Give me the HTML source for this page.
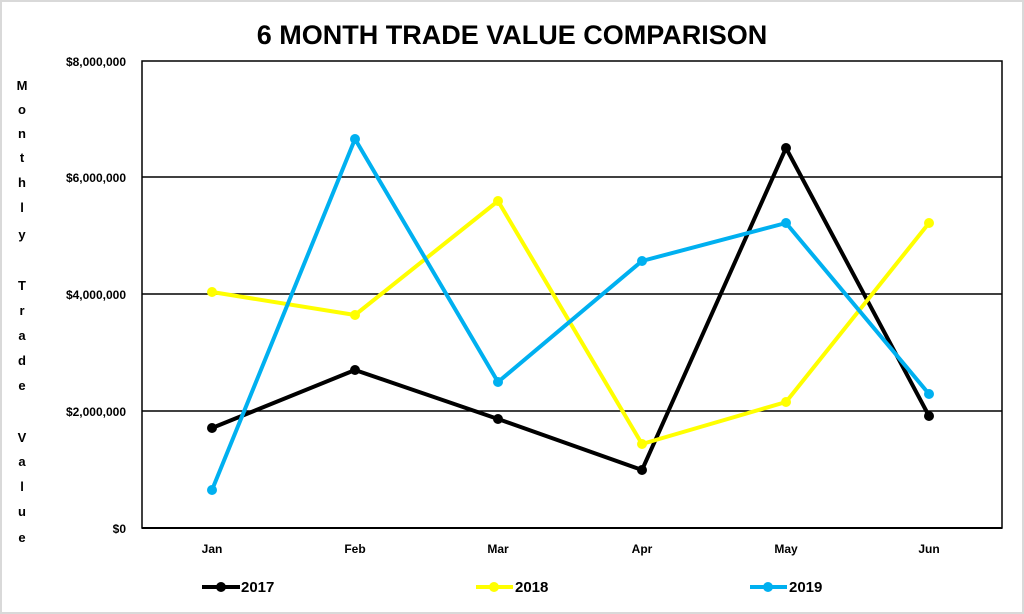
<!DOCTYPE html>
<html><head><meta charset="utf-8"><style>
body{margin:0;background:#fff}
svg{display:block;font-family:"Liberation Sans",Arial,sans-serif;font-weight:bold}
</style></head><body>
<svg width="1024" height="614" viewBox="0 0 1024 614">
<rect x="1" y="1" width="1022" height="612" fill="#fff" stroke="#d9d9d9" stroke-width="2"/>
<text x="512" y="44" font-size="27" text-anchor="middle" fill="#000">6 MONTH TRADE VALUE COMPARISON</text>
<g stroke="#000" stroke-width="1.5">
<line x1="142" y1="177" x2="1002" y2="177"/>
<line x1="142" y1="294" x2="1002" y2="294"/>
<line x1="142" y1="411" x2="1002" y2="411"/>
</g>
<rect x="142" y="61" width="860" height="467" fill="none" stroke="#000" stroke-width="1.5"/>
<line x1="142" y1="528" x2="1002" y2="528" stroke="#000" stroke-width="2"/>
<g font-size="12" text-anchor="end" fill="#000">
<text x="126" y="66">$8,000,000</text>
<text x="126" y="182">$6,000,000</text>
<text x="126" y="299">$4,000,000</text>
<text x="126" y="416">$2,000,000</text>
<text x="126" y="533">$0</text>
</g>
<g font-size="12" text-anchor="middle" fill="#000">
<text x="212" y="553">Jan</text><text x="355" y="553">Feb</text><text x="498" y="553">Mar</text>
<text x="642" y="553">Apr</text><text x="786" y="553">May</text><text x="929" y="553">Jun</text>
</g>
<g font-size="13" text-anchor="middle" fill="#000">
<text x="22" y="90">M</text><text x="22" y="114">o</text><text x="22" y="138">n</text><text x="22" y="162">t</text><text x="22" y="187">h</text><text x="22" y="212">l</text><text x="22" y="239">y</text>
<text x="22" y="290">T</text><text x="22" y="315">r</text><text x="22" y="340">a</text><text x="22" y="365">d</text><text x="22" y="390">e</text>
<text x="22" y="442">V</text><text x="22" y="466">a</text><text x="22" y="491">l</text><text x="22" y="516">u</text><text x="22" y="542">e</text>
</g>
<g fill="none" stroke-width="4" stroke-linejoin="round">
<polyline stroke="#000" points="212,428 355,370 498,419 642,470 786,148 929,416"/>
<polyline stroke="#ffff00" points="212,292 355,315 498,201 642,444 786,402 929,223"/>
<polyline stroke="#00b0f0" points="212,490 355,139 498,382 642,261 786,223 929,394"/>
</g>
<g fill="#000"><circle cx="212" cy="428" r="5"/><circle cx="355" cy="370" r="5"/><circle cx="498" cy="419" r="5"/><circle cx="642" cy="470" r="5"/><circle cx="786" cy="148" r="5"/><circle cx="929" cy="416" r="5"/></g>
<g fill="#ffff00"><circle cx="212" cy="292" r="5"/><circle cx="355" cy="315" r="5"/><circle cx="498" cy="201" r="5"/><circle cx="642" cy="444" r="5"/><circle cx="786" cy="402" r="5"/><circle cx="929" cy="223" r="5"/></g>
<g fill="#00b0f0"><circle cx="212" cy="490" r="5"/><circle cx="355" cy="139" r="5"/><circle cx="498" cy="382" r="5"/><circle cx="642" cy="261" r="5"/><circle cx="786" cy="223" r="5"/><circle cx="929" cy="394" r="5"/></g>
<g stroke-width="4">
<line x1="202" y1="587" x2="240" y2="587" stroke="#000"/><circle cx="221" cy="587" r="5" fill="#000"/>
<line x1="476" y1="587" x2="513" y2="587" stroke="#ffff00"/><circle cx="494" cy="587" r="5" fill="#ffff00"/>
<line x1="750" y1="587" x2="787" y2="587" stroke="#00b0f0"/><circle cx="768" cy="587" r="5" fill="#00b0f0"/>
</g>
<g font-size="15" fill="#000">
<text x="241" y="592">2017</text><text x="515" y="592">2018</text><text x="789" y="592">2019</text>
</g>
</svg>
</body></html>
